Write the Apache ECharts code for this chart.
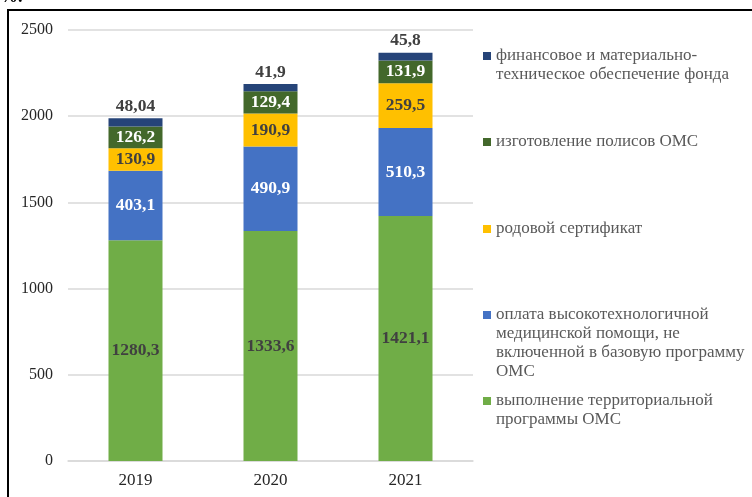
<!DOCTYPE html>
<html>
<head>
<meta charset="utf-8">
<script src="https://cdn.jsdelivr.net/npm/echarts@6/dist/echarts.min.js"></script>
<style>
  html, body { margin: 0; padding: 0; background: #fff; }
  #chart { width: 752px; height: 497px; }
</style>
</head>
<body>
<div id="chart"></div>
<script>
// Years on the category axis
const years = ['2019', '2020', '2021'];

// Stacked spending components, bottom to top
const territorial = [1280.3, 1333.6, 1421.1];
const hiTech = [403.1, 490.9, 510.3];
const birthCert = [130.9, 190.9, 259.5];
const policies = [126.2, 129.4, 131.9];
const fundSupport = [48.04, 41.9, 45.8];

// Series names (legend text)
const names = [
  'выполнение территориальной\nпрограммы ОМС',
  'оплата высокотехнологичной\nмедицинской помощи, не\nвключенной в базовую программу\nОМС',
  'родовой сертификат',
  'изготовление полисов ОМС',
  'финансовое и материально-\nтехническое обеспечение фонда'
];

// Y axis ticks
const yMin = 0, yMax = 2500, yStep = 500;

const colors = ['#70AD47', '#4472C4', '#FFC000', '#43682B', '#264478'];
const labelColors = ['#404040', '#ffffff', '#404040', '#ffffff', '#404040'];
const serif = '"Liberation Serif", "DejaVu Serif", serif';
const fmt = p => String(p.value).replace('.', ',');

const seriesData = [territorial, hiTech, birthCert, policies, fundSupport];

const series = seriesData.map((d, i) => ({
  name: names[i],
  type: 'bar',
  stack: 'total',
  barWidth: 54,
  data: d,
  itemStyle: { color: colors[i] },
  label: {
    show: true,
    position: i === 4 ? 'top' : 'inside',
    distance: 3,
    formatter: fmt,
    color: labelColors[i],
    fontFamily: serif,
    fontWeight: 'bold',
    fontSize: 17.5
  }
}));

// Legend entries, top to bottom; marker sits beside the first text line
const legendOrder = [4, 3, 2, 1, 0];
const markerCenters = [56, 142, 229, 315, 401];
const lineH = 18.7;
const legends = legendOrder.map((si, k) => {
  const lines = names[si].split('\n').length;
  const blank = '\n'.repeat(lines - 1);
  return {
    data: [names[si]],
    left: 483,
    top: markerCenters[k] - (2 * lines - 1) * lineH / 2,
    orient: 'vertical',
    itemWidth: 8,
    itemHeight: 8,
    itemGap: 0,
    padding: 0,
    icon: 'rect',
    selectedMode: false,
    formatter: name => blank + name,
    textStyle: {
      fontFamily: serif,
      fontSize: 17,
      color: '#595959',
      lineHeight: lineH
    }
  };
});

const chart = echarts.init(document.getElementById('chart'));
chart.setOption({
  animation: false,
  backgroundColor: '#ffffff',
  color: colors,
  grid: { left: 68, right: 279, top: 30, bottom: 36 },
  legend: legends,
  xAxis: {
    type: 'category',
    data: years,
    axisLine: { show: true, lineStyle: { color: '#d9d9d9', width: 1.5 } },
    axisTick: { show: false },
    axisLabel: { color: '#262626', fontFamily: serif, fontSize: 17, margin: 11 }
  },
  yAxis: {
    type: 'value',
    min: yMin,
    max: yMax,
    interval: yStep,
    axisLine: { show: false },
    axisTick: { show: false },
    splitLine: { lineStyle: { color: '#d9d9d9', width: 1.5 } },
    axisLabel: {
      color: '#262626', fontFamily: serif, fontSize: 16, margin: 15,
      formatter: v => String(v)
    }
  },
  series: series,
  graphic: [
    {
      type: 'rect',
      shape: { x: 8, y: 10, width: 900, height: 700 },
      style: { fill: 'none', stroke: '#000', lineWidth: 2 },
      silent: true,
      z: 100
    },
    {
      type: 'text',
      left: 0,
      top: -12,
      style: { text: '%.', fontFamily: serif, fontSize: 18, fontWeight: 'bold', fill: '#000' },
      z: 100
    }
  ]
});
</script>
</body>
</html>
